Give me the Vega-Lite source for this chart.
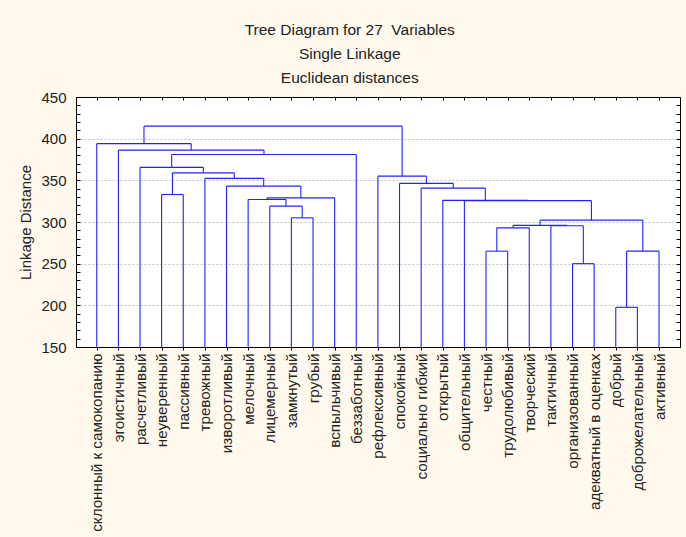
{
  "$schema": "https://vega.github.io/schema/vega-lite/v6.json",
  "width": 604,
  "height": 250,
  "autosize": {"type": "none"},
  "padding": {"left": 76, "top": 97, "right": 6, "bottom": 190},
  "background": "#FFF9EE",
  "config": {
    "font": "Liberation Sans",
    "view": {"fill": "white", "stroke": "black", "strokeWidth": 1},
    "axis": {"labelFontSize": 15, "labelColor": "#222222", "titleFontSize": 15, "titleFontWeight": "normal", "titleColor": "#222222", "domain": false, "tickColor": "black"}
  },
  "title": {
    "text": ["Tree Diagram for 27\u00a0 Variables", "Single Linkage", "Euclidean distances"],
    "anchor": "middle",
    "frame": "bounds",
    "fontSize": 15.5,
    "fontWeight": "normal",
    "lineHeight": 24,
    "offset": 4,
    "color": "#222222"
  },
  "data": {
    "values": [
      {"xl": 10, "hl": 150, "xr": 11, "hr": 150, "h": 305},
      {"xl": 9, "hl": 150, "xr": 10.5, "hr": 305, "h": 319},
      {"xl": 8, "hl": 150, "xr": 9.75, "hr": 319, "h": 327},
      {"xl": 8.875, "hl": 327, "xr": 12, "hr": 150, "h": 329},
      {"xl": 7, "hl": 150, "xr": 10.4375, "hr": 329, "h": 343},
      {"xl": 6, "hl": 150, "xr": 8.71875, "hr": 343, "h": 352.3},
      {"xl": 4, "hl": 150, "xr": 5, "hr": 150, "h": 333},
      {"xl": 4.5, "hl": 333, "xr": 7.359375, "hr": 352.3, "h": 359},
      {"xl": 3, "hl": 150, "xr": 5.9296875, "hr": 359, "h": 365.5},
      {"xl": 4.46484375, "hl": 365.5, "xr": 13, "hr": 150, "h": 381},
      {"xl": 2, "hl": 150, "xr": 8.732421875, "hr": 381, "h": 386.3},
      {"xl": 1, "hl": 150, "xr": 5.3662109375, "hr": 386.3, "h": 394},
      {"xl": 25, "hl": 150, "xr": 26, "hr": 150, "h": 197.6},
      {"xl": 25.5, "hl": 197.6, "xr": 27, "hr": 150, "h": 265},
      {"xl": 23, "hl": 150, "xr": 24, "hr": 150, "h": 250},
      {"xl": 22, "hl": 150, "xr": 23.5, "hr": 250, "h": 295.5},
      {"xl": 19, "hl": 150, "xr": 20, "hr": 150, "h": 265},
      {"xl": 19.5, "hl": 265, "xr": 21, "hr": 150, "h": 293},
      {"xl": 20.25, "hl": 293, "xr": 22.75, "hr": 295.5, "h": 296},
      {"xl": 21.5, "hl": 296, "xr": 26.25, "hr": 265, "h": 302.2},
      {"xl": 18, "hl": 150, "xr": 23.875, "hr": 302.2, "h": 325.6},
      {"xl": 17, "hl": 150, "xr": 20.9375, "hr": 325.6, "h": 326},
      {"xl": 16, "hl": 150, "xr": 18.96875, "hr": 326, "h": 340.6},
      {"xl": 15, "hl": 150, "xr": 17.484375, "hr": 340.6, "h": 346.3},
      {"xl": 14, "hl": 150, "xr": 16.2421875, "hr": 346.3, "h": 355},
      {"xl": 3.18310546875, "hl": 394, "xr": 15.12109375, "hr": 355, "h": 415}
    ]
  },
  "resolve": {"axis": {"x": "independent", "y": "independent"}},
  "layer": [
    {
      "mark": {"type": "rule", "color": "#2222FF", "strokeWidth": 1.1},
      "encoding": {
        "x": {
          "field": "xl", "type": "quantitative",
          "scale": {"domain": [0.04, 27.97], "nice": false, "zero": false},
          "axis": {
            "orient": "bottom", "title": null,
            "values": [1,2,3,4,5,6,7,8,9,10,11,12,13,14,15,16,17,18,19,20,21,22,23,24,25,26,27],
            "labelExpr": "['склонный к самокопанию','эгоистичный','расчетливый','неуверенный','пассивный','тревожный','изворотливый','мелочный','лицемерный','замкнутый','грубый','вспыльчивый','беззаботный','рефлексивный','спокойный','социально гибкий','открытый','общительный','честный','трудолюбивый','творческий','тактичный','организованный','адекватный в оценках','добрый','доброжелательный','активный'][datum.value - 1]",
            "labelAngle": -90,
            "labelAlign": "right",
            "labelBaseline": "middle",
            "labelFontSize": 15.2,
            "labelLimit": 400,
            "labelPadding": 3,
            "tickSize": 3,
            "grid": false,
            "labelOverlap": false,
            "labelBound": false
          }
        },
        "y": {
          "field": "hl", "type": "quantitative",
          "scale": {"domain": [150, 450], "nice": false, "zero": false},
          "axis": {
            "orient": "left",
            "title": "Linkage Distance",
            "titlePadding": 7,
            "values": [150,160,170,180,190,200,210,220,230,240,250,260,270,280,290,300,310,320,330,340,350,360,370,380,390,400,410,420,430,440,450],
            "labelExpr": "datum.value % 50 === 0 ? datum.label : ''",
            "tickSize": -4,
            "labelPadding": 14,
            "grid": true,
            "gridColor": "#C4C4C4",
            "gridDash": [2, 2],
            "gridOpacity": {"condition": {"test": "datum.value % 50 === 0 && datum.value > 150 && datum.value < 450", "value": 1}, "value": 0},
            "labelOverlap": false
          }
        },
        "y2": {"field": "h"}
      }
    },
    {
      "mark": {"type": "rule", "color": "#2222FF", "strokeWidth": 1.1},
      "encoding": {
        "x": {
          "field": "xr", "type": "quantitative",
          "axis": {
            "orient": "top", "title": null, "labels": false,
            "values": [1,2,3,4,5,6,7,8,9,10,11,12,13,14,15,16,17,18,19,20,21,22,23,24,25,26,27],
            "tickSize": -3, "grid": false
          }
        },
        "y": {
          "field": "hr", "type": "quantitative",
          "axis": {
            "orient": "right", "title": null, "labels": false,
            "values": [150,160,170,180,190,200,210,220,230,240,250,260,270,280,290,300,310,320,330,340,350,360,370,380,390,400,410,420,430,440,450],
            "tickSize": -4, "grid": false
          }
        },
        "y2": {"field": "h"}
      }
    },
    {
      "mark": {"type": "rule", "color": "#2222FF", "strokeWidth": 1.1},
      "encoding": {
        "x": {"field": "xl", "type": "quantitative", "axis": null},
        "x2": {"field": "xr"},
        "y": {"field": "h", "type": "quantitative", "axis": null}
      }
    }
  ]
}
